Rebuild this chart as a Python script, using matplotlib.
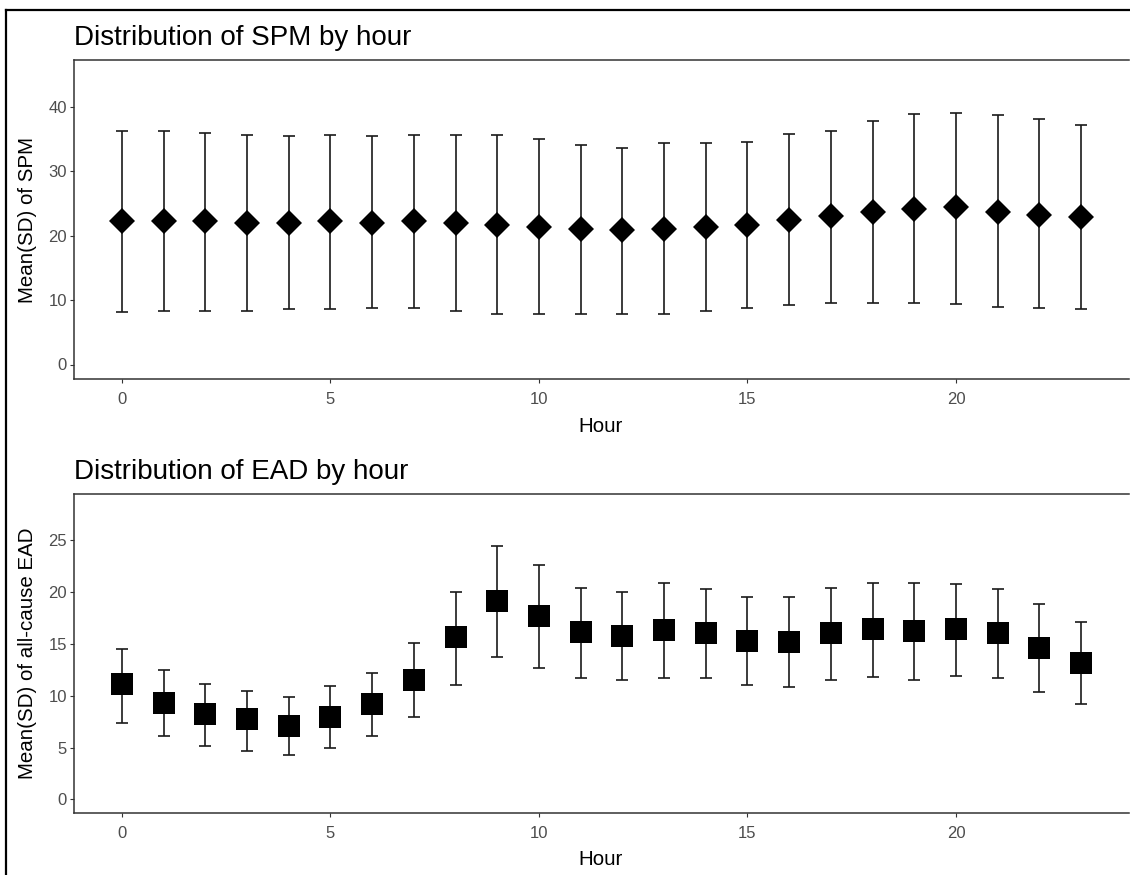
import matplotlib.pyplot as plt
from matplotlib.lines import Line2D

plt.rcParams['font.family'] = ['Liberation Sans', 'DejaVu Sans']

hours = list(range(24))

# SPM by hour: mean and error bar ends
spm_mean = [22.2, 22.2, 22.2, 21.9, 21.9, 22.2, 21.9, 22.2, 21.9, 21.7, 21.3, 21.1,
            20.9, 21.1, 21.3, 21.6, 22.4, 23.1, 23.7, 24.1, 24.4, 23.7, 23.2, 22.9]
spm_low = [8.1, 8.3, 8.3, 8.3, 8.6, 8.6, 8.8, 8.8, 8.3, 7.9, 7.9, 7.9,
           7.9, 7.9, 8.3, 8.8, 9.2, 9.6, 9.6, 9.6, 9.4, 9.0, 8.8, 8.6]
spm_high = [36.2, 36.2, 36.0, 35.6, 35.4, 35.6, 35.4, 35.6, 35.6, 35.6, 35.0, 34.1,
            33.6, 34.3, 34.3, 34.5, 35.8, 36.2, 37.8, 38.9, 39.1, 38.7, 38.1, 37.2]

# EAD by hour: mean and error bar ends
ead_mean = [11.1, 9.3, 8.2, 7.7, 7.1, 7.9, 9.2, 11.5, 15.6, 19.1, 17.7, 16.1,
            15.7, 16.3, 16.0, 15.3, 15.2, 16.0, 16.4, 16.2, 16.4, 16.0, 14.6, 13.1]
ead_low = [7.4, 6.1, 5.1, 4.7, 4.3, 5.0, 6.1, 7.9, 11.0, 13.7, 12.7, 11.7,
           11.5, 11.7, 11.7, 11.0, 10.8, 11.5, 11.8, 11.5, 11.9, 11.7, 10.3, 9.2]
ead_high = [14.5, 12.5, 11.1, 10.4, 9.9, 10.9, 12.2, 15.1, 20.0, 24.4, 22.6, 20.4,
            20.0, 20.8, 20.3, 19.5, 19.5, 20.4, 20.8, 20.8, 20.7, 20.3, 18.8, 17.1]

W, H = 1130, 875
fig = plt.figure(figsize=(W / 100, H / 100), dpi=100)


def px_axes(left, top, right, bottom):
    return fig.add_axes([left / W, 1 - bottom / H, (right - left) / W, (bottom - top) / H])


def style(ax, ylim, yticks):
    ax.set_xlim(-1.15, 24.15)
    ax.set_ylim(*ylim)
    ax.set_xticks([0, 5, 10, 15, 20])
    ax.set_yticks(yticks)
    for s in ['left', 'bottom', 'top']:
        ax.spines[s].set_color('#333333')
        ax.spines[s].set_linewidth(1.1)
    ax.spines['right'].set_visible(False)
    ax.tick_params(colors='#333333', labelcolor='#4D4D4D', labelsize=12,
                   length=3, width=0.8)
    ax.tick_params(axis='x', pad=6)
    ax.tick_params(axis='y', pad=2)


def draw(ax, mean, low, high, marker, ms):
    yerr = [[m - l for m, l in zip(mean, low)], [h - m for m, h in zip(mean, high)]]
    ax.errorbar(hours, mean, yerr=yerr, fmt='none', ecolor='#1a1a1a',
                elinewidth=1.2, capsize=4.2, capthick=1.2)
    ax.plot(hours, mean, linestyle='none', marker=marker, markersize=ms,
            color='black', markeredgewidth=0, zorder=3)


ax1 = px_axes(74, 60, 1129, 379)
draw(ax1, spm_mean, spm_low, spm_high, 'D', 12.8)
style(ax1, (-2.25, 47.25), [0, 10, 20, 30, 40])

ax2 = px_axes(74, 494, 1129, 813)
draw(ax2, ead_mean, ead_low, ead_high, 's', 15.5)
style(ax2, (-1.3, 29.4), [0, 5, 10, 15, 20, 25])

fig.text(74 / W, 1 - 45 / H, 'Distribution of SPM by hour', fontsize=20, va='baseline', ha='left')
fig.text(74 / W, 1 - 479 / H, 'Distribution of EAD by hour', fontsize=20, va='baseline', ha='left')

fig.text(28 / W, 1 - 220 / H, 'Mean(SD) of SPM', fontsize=14.8, rotation=90, va='center', ha='center')
fig.text(28 / W, 1 - 653 / H, 'Mean(SD) of all-cause EAD', fontsize=14.8, rotation=90, va='center', ha='center')

fig.text(601 / W, 1 - 432 / H, 'Hour', fontsize=14.8, va='baseline', ha='center')
fig.text(601 / W, 1 - 865 / H, 'Hour', fontsize=14.8, va='baseline', ha='center')

# outer frame of the screenshot
fig.add_artist(Line2D([6 / W, 6 / W], [0, 1 - 10 / H], transform=fig.transFigure, color='black', lw=1.6))
fig.add_artist(Line2D([6 / W, 1], [1 - 10 / H, 1 - 10 / H], transform=fig.transFigure, color='black', lw=1.6))

fig.savefig('out.png', dpi=100)
